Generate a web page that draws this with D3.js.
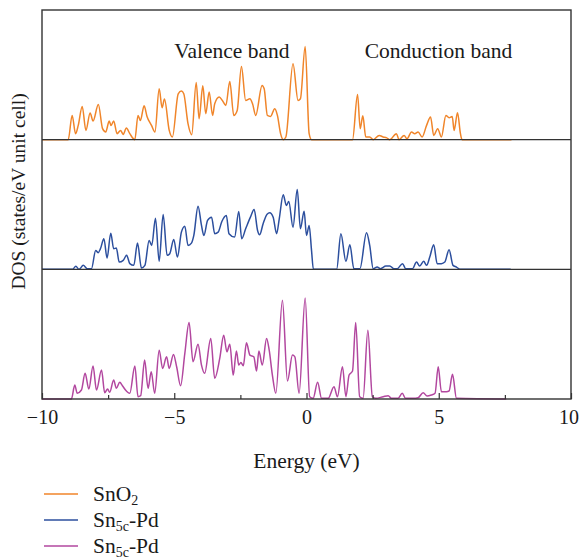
<!DOCTYPE html>
<html>
<head>
<meta charset="utf-8">
<script src="https://cdn.jsdelivr.net/npm/d3@7"></script>
<style>
  html, body { margin: 0; padding: 0; background: #fff; }
  svg { display: block; }
  text { font-family: "Liberation Serif", "Times New Roman", serif; fill: #1a1a1a; }
</style>
</head>
<body>
<div id="chart"></div>
<script>
// DOS curves as [energy (eV), DOS] pairs
const sno2Dos = [
  [-10,0],[-9.01,0],[-8.86,2.43],[-8.73,0.6],[-8.63,1.43],[-8.48,3.33],[-8.34,0.93],[-8.18,2.67],[-8.07,1.87],[-7.87,3.53],
  [-7.71,1.1],[-7.59,0.77],[-7.46,1.87],[-7.39,1.43],[-7.29,1.87],[-7.16,0.6],[-7.03,0.93],[-6.93,0.53],[-6.81,1.17],[-6.68,0.6],
  [-6.49,0],[-6.37,2.43],[-6.28,1.93],[-6.14,3.4],[-6.03,2.33],[-5.86,1.43],[-5.73,0.77],[-5.57,5.1],[-5.46,3.2],[-5.37,4.07],
  [-5.19,0.93],[-5.07,0.27],[-4.85,4.6],[-4.73,4.87],[-4.64,4.6],[-4.48,1.6],[-4.34,0.5],[-4.17,5.73],[-4.06,2.1],[-3.92,5.4],
  [-3.81,2.6],[-3.68,4.77],[-3.55,2.43],[-3.47,3.6],[-3.30,4.27],[-3.18,3.93],[-3.05,3.43],[-2.90,5.83],[-2.75,2.43],[-2.62,2.93],
  [-2.46,7.33],[-2.30,3.93],[-2.14,4.1],[-2.04,3.6],[-1.92,2.43],[-1.68,5.43],[-1.60,5.1],[-1.48,2.43],[-1.36,2.33],[-1.20,3.1],
  [-1.10,2.43],[-0.98,0.6],[-0.88,0],[-0.78,0.27],[-0.51,7.6],[-0.32,3.93],[-0.23,4.1],[-0.05,9.33],[0.10,0.6],[0.19,0],
  [1.74,0],[1.93,4.53],[2.03,1.1],[2.13,2.4],[2.24,0.27],[2.39,0.27],[2.52,0],[2.75,0.43],[2.90,0.27],[3.02,0.2],
  [3.15,0],[3.40,0.6],[3.50,0],[3.69,0.43],[3.80,0.1],[3.97,0.77],[4.09,0.6],[4.22,0.77],[4.37,0.27],[4.54,1.43],
  [4.69,2.27],[4.81,0.43],[4.96,1.1],[5.10,0.27],[5.27,2.43],[5.39,2.2],[5.51,2.33],[5.58,0.93],[5.71,2.7],[5.82,0.6],
  [5.88,0],[7.75,0]
];

const sn5cPdDos = [
  [-10,0],[-8.85,0],[-8.72,0.3],[-8.60,0],[-8.44,0.4],[-8.29,0.07],[-8.13,0.07],[-7.97,1.9],[-7.88,1.67],[-7.79,2.07],
  [-7.66,3.07],[-7.54,1.13],[-7.40,3.63],[-7.29,2.07],[-7.19,2.13],[-7.08,0.73],[-6.93,0.9],[-6.80,1.4],[-6.68,0.57],[-6.53,0.4],
  [-6.39,2.63],[-6.24,0.13],[-6.11,0.4],[-5.95,2.9],[-5.85,2.4],[-5.71,5.13],[-5.57,0.8],[-5.42,5.5],[-5.27,1.4],[-5.17,1.57],
  [-5.02,3.0],[-4.88,1.23],[-4.73,3.73],[-4.60,4.33],[-4.48,2.4],[-4.35,2.63],[-4.26,3.4],[-4.10,6.33],[-3.97,4.4],[-3.88,3.4],
  [-3.74,4.9],[-3.59,5.23],[-3.47,3.57],[-3.34,3.73],[-3.20,4.8],[-3.03,5.4],[-2.93,3.57],[-2.72,3.23],[-2.56,5.8],[-2.45,3.07],
  [-2.30,4.07],[-2.12,5.23],[-1.98,6.0],[-1.85,3.9],[-1.77,3.47],[-1.64,4.57],[-1.49,5.53],[-1.39,5.67],[-1.26,5.23],[-1.13,3.57],
  [-1.03,5.07],[-0.88,7.47],[-0.76,6.4],[-0.67,6.8],[-0.51,4.23],[-0.35,8.0],[-0.23,4.07],[-0.09,5.83],[0.00,3.4],[0.10,4.4],
  [0.19,1.9],[0.26,0],[1.14,0],[1.30,3.57],[1.49,0.8],[1.64,2.47],[1.79,0.07],[2.02,0.07],[2.27,3.67],[2.39,2.4],
  [2.52,0.07],[2.67,0.23],[2.80,0.07],[3.00,0.33],[3.15,0.33],[3.30,0.07],[3.43,0.07],[3.63,0.57],[3.75,0.07],[4.01,0.07],
  [4.16,0.73],[4.28,0.33],[4.43,0.8],[4.54,0.4],[4.66,1.23],[4.81,2.47],[4.94,0.57],[5.10,0.57],[5.23,0.73],[5.39,1.97],
  [5.54,0.4],[5.67,0.23],[5.80,0],[7.72,0]
];

const sn5cPd2Dos = [
  [-10,0],[-8.89,0],[-8.76,1.4],[-8.67,0.57],[-8.51,0.9],[-8.37,2.57],[-8.23,1.0],[-8.07,3.3],[-7.94,0.9],[-7.75,2.9],
  [-7.63,0.63],[-7.52,1.0],[-7.44,0.67],[-7.29,1.9],[-7.19,1.07],[-7.06,1.67],[-6.96,1.33],[-6.81,0.8],[-6.68,0.57],[-6.49,3.3],
  [-6.37,0.23],[-6.27,0.33],[-6.12,3.9],[-5.99,1.07],[-5.87,2.73],[-5.74,0.57],[-5.57,4.9],[-5.44,3.07],[-5.29,4.23],[-5.19,3.07],
  [-5.03,4.47],[-4.91,3.23],[-4.76,1.33],[-4.60,4.57],[-4.44,7.67],[-4.29,3.73],[-4.10,5.5],[-3.97,3.4],[-3.85,2.57],[-3.62,6.07],
  [-3.47,2.07],[-3.28,4.07],[-3.13,6.4],[-3.01,4.73],[-2.90,5.5],[-2.77,2.4],[-2.65,4.8],[-2.56,3.4],[-2.48,3.67],[-2.39,3.33],
  [-2.27,5.63],[-2.14,4.4],[-1.99,4.23],[-1.89,2.8],[-1.80,4.8],[-1.67,3.4],[-1.51,6.07],[-1.41,4.9],[-1.29,2.4],[-1.16,0.57],
  [-0.91,9.9],[-0.72,1.8],[-0.53,4.4],[-0.44,4.23],[-0.28,0.57],[-0.05,10.13],[0.12,0.23],[0.25,0.07],[0.42,1.67],[0.57,0.07],
  [0.82,0.07],[1.04,1.23],[1.17,0.23],[1.36,3.23],[1.49,0.23],[1.61,2.4],[1.74,2.8],[1.86,7.67],[2.01,0.23],[2.14,0.07],
  [2.32,6.9],[2.49,0.23],[2.62,0.07],[2.90,0.23],[3.09,0.33],[3.21,0.07],[3.46,0.07],[3.62,0.57],[3.74,0.07],[4.03,0.07],
  [4.22,0.13],[4.41,0.63],[4.56,0.3],[4.72,0.4],[4.86,0.57],[4.98,3.23],[5.10,0.73],[5.29,0.73],[5.39,0.8],[5.52,2.47],
  [5.67,0.07],[7.55,0]
];

const seriesData = [sno2Dos, sn5cPdDos, sn5cPd2Dos];
const seriesColors = ["#f0852a", "#2c4f9e", "#b2479f"];
// label pieces: base, subscript, rest
const seriesLabels = [["SnO", "2", ""], ["Sn", "5c", "-Pd"], ["Sn", "5c", "-Pd"]];
const majorTicks = [-10, -5, 0, 5, 10];
const minorTicks = [-7.5, -2.5, 2.5, 7.5];
const bandLabels = [{ text: "Valence band", e: -5.0 }, { text: "Conduction band", e: 2.2 }];

const width = 580, height = 560;
const margin = { top: 10, right: 9, bottom: 161, left: 42 };
const plotBottom = height - margin.bottom;
const fontSize = 21.5;

const svg = d3.select("#chart").append("svg")
    .attr("width", width)
    .attr("height", height);

const x = d3.scaleLinear().domain([-10, 10]).range([margin.left, width - margin.right]);
const panel = d3.scaleBand().domain(d3.range(seriesData.length)).range([margin.top, plotBottom]);
const yMax = 13;

// curves
seriesData.forEach((pts, i) => {
    const y = d3.scaleLinear().domain([0, yMax]).range([panel(i) + panel.bandwidth(), panel(i)]);
    const line = d3.line()
        .x(d => x(d[0]))
        .y(d => y(d[1]))
        .curve(d3.curveMonotoneX);
    svg.append("path")
        .datum(pts)
        .attr("fill", "none")
        .attr("stroke", seriesColors[i])
        .attr("stroke-width", 1.5)
        .attr("stroke-linejoin", "round")
        .attr("d", line);
});

// frame and panel separators
svg.append("rect")
    .attr("x", margin.left).attr("y", margin.top)
    .attr("width", width - margin.left - margin.right)
    .attr("height", plotBottom - margin.top)
    .attr("fill", "none")
    .attr("stroke", "#333")
    .attr("stroke-width", 1.4);
svg.selectAll("line.sep")
    .data(d3.range(1, seriesData.length))
    .join("line")
        .attr("class", "sep")
        .attr("x1", margin.left).attr("x2", width - margin.right)
        .attr("y1", d => panel(d)).attr("y2", d => panel(d))
        .attr("stroke", "#333")
        .attr("stroke-width", 1.4);

// bottom axis, ticks pointing inward
const axisMajor = svg.append("g")
    .attr("transform", `translate(0,${plotBottom})`)
    .call(d3.axisBottom(x).tickValues(majorTicks).tickSize(-6).tickPadding(11).tickFormat(d3.format("d")));
axisMajor.select(".domain").remove();
axisMajor.selectAll("line").attr("stroke", "#333").attr("stroke-width", 1.2);
axisMajor.selectAll("text")
    .attr("font-family", "Liberation Serif, serif")
    .attr("font-size", 20)
    .attr("fill", "#1a1a1a")
    .attr("dx", d => d === 10 ? -2.5 : 0);

const axisMinor = svg.append("g")
    .attr("transform", `translate(0,${plotBottom})`)
    .call(d3.axisBottom(x).tickValues(minorTicks).tickSize(-4).tickFormat(""));
axisMinor.select(".domain").remove();
axisMinor.selectAll("line").attr("stroke", "#333").attr("stroke-width", 1.2);

// axis titles
svg.append("text")
    .attr("x", x(0))
    .attr("y", 468)
    .attr("text-anchor", "middle")
    .attr("font-size", fontSize)
    .text("Energy (eV)");

svg.append("text")
    .attr("transform", `translate(25,${(margin.top + plotBottom) / 2 - 13}) rotate(-90)`)
    .attr("text-anchor", "middle")
    .attr("font-size", 19.5)
    .text("DOS (states/eV unit cell)");

// band annotations
svg.selectAll("text.band")
    .data(bandLabels)
    .join("text")
        .attr("class", "band")
        .attr("x", d => x(d.e))
        .attr("y", 58)
        .attr("font-size", fontSize)
        .text(d => d.text);

// legend
const legend = svg.append("g").attr("transform", "translate(44,494)");
const rows = legend.selectAll("g")
    .data(seriesLabels)
    .join("g")
        .attr("transform", (d, i) => `translate(0,${i * 26})`);
rows.append("line")
    .attr("x1", 0).attr("x2", 34)
    .attr("stroke", (d, i) => seriesColors[i])
    .attr("stroke-width", 1.5);
const lt = rows.append("text")
    .attr("x", 49)
    .attr("y", 7)
    .attr("font-size", fontSize);
lt.append("tspan").text(d => d[0]);
lt.append("tspan").attr("font-size", 14).attr("dy", 4).text(d => d[1]);
lt.append("tspan").attr("dy", -4).text(d => d[2]);
</script>
</body>
</html>
